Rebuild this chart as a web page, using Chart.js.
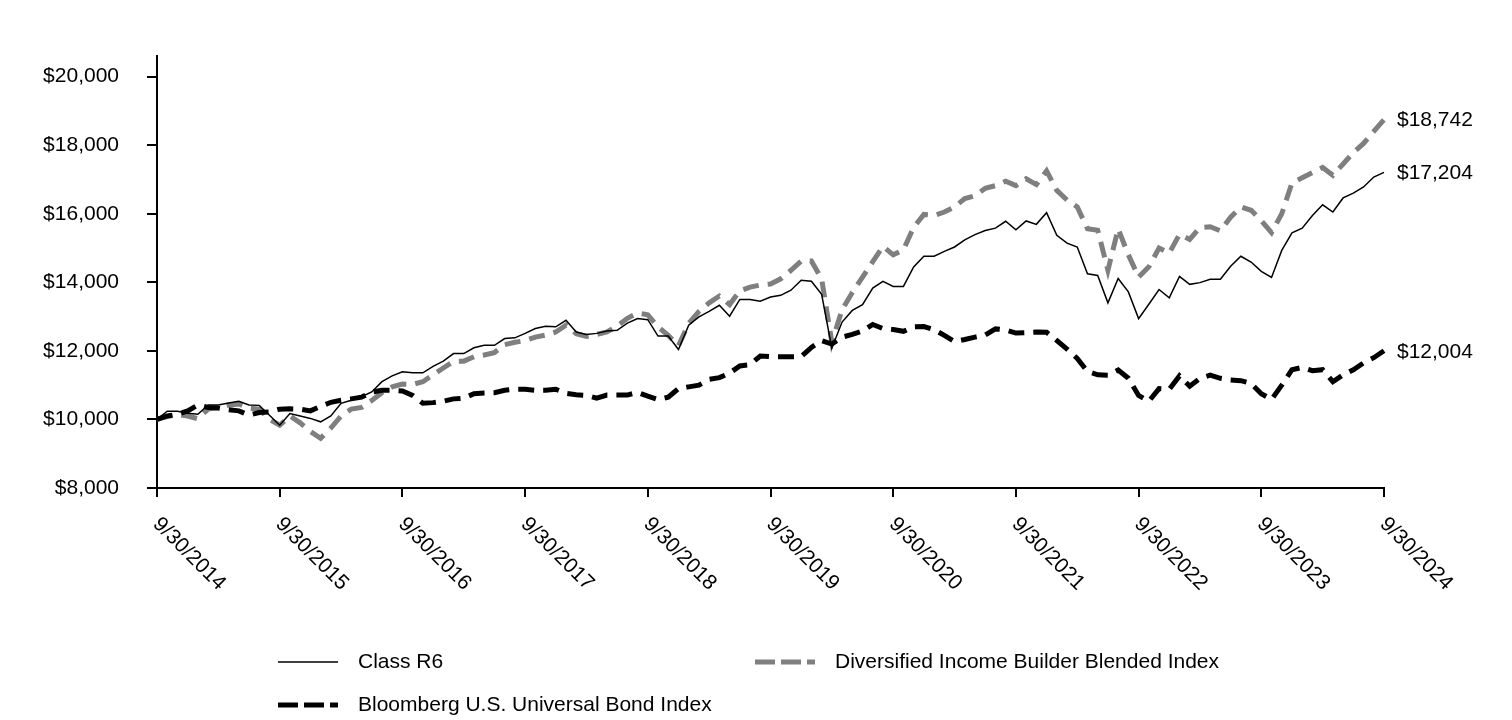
<!DOCTYPE html>
<html><head><meta charset="utf-8">
<script src="https://cdn.jsdelivr.net/npm/chart.js@4.4.1/dist/chart.umd.min.js"></script>
<style>html,body{margin:0;padding:0;background:#fff;}canvas{display:block;}</style>
</head><body>
<canvas id="c" width="1512" height="720"></canvas>
<script>
// ---- Data ----
const classR6 = [10000,10240,10240,10180,10150,10420,10420,10480,10530,10420,10410,10120,
  9830,10170,10100,10030,9930,10100,10470,10560,10660,10800,11100,11270,
  11390,11360,11360,11550,11700,11920,11920,12090,12160,12160,12360,12380,
  12510,12650,12720,12700,12890,12550,12480,12510,12580,12600,12810,12940,
  12910,12430,12430,12040,12750,12990,13150,13330,13010,13500,13500,13450,
  13570,13620,13770,14060,14030,13650,12080,12840,13180,13350,13830,14030,
  13880,13880,14450,14760,14760,14900,15030,15240,15390,15510,15580,15780,
  15530,15790,15690,16030,15370,15140,15030,14250,14200,13400,14110,13720,
  12940,13360,13790,13550,14170,13940,13990,14090,14090,14470,14760,14590,
  14320,14140,14930,15440,15580,15950,16260,16050,16460,16600,16780,17070,
  17204];
const blendedIndex = [10000,10080,10150,10100,10020,10300,10350,10420,10450,10330,10300,10000,
  9830,10100,9900,9650,9450,9750,10100,10300,10350,10550,10780,10950,
  11030,11020,11100,11300,11500,11690,11700,11830,11880,11950,12180,12250,
  12300,12400,12460,12550,12750,12500,12420,12480,12550,12720,12950,13100,
  13050,12700,12450,12150,12800,13150,13400,13600,13350,13750,13860,13920,
  13950,14100,14350,14620,14620,14100,12250,13200,13700,14150,14600,15050,
  14800,14950,15600,15980,15950,16050,16200,16440,16520,16740,16820,16950,
  16820,17020,16850,17250,16680,16400,16200,15560,15520,14350,15560,14800,
  14150,14450,15000,14850,15400,15250,15600,15620,15500,15900,16200,16100,
  15800,15450,16000,16900,17050,17200,17350,17120,17450,17780,18050,18400,
  18742];
const bloombergIndex = [10000,10100,10150,10250,10420,10350,10330,10280,10250,10130,10200,10220,
  10300,10310,10300,10250,10380,10500,10560,10600,10650,10800,10850,10850,
  10830,10700,10470,10490,10530,10600,10620,10750,10770,10780,10850,10880,
  10880,10850,10850,10880,10760,10720,10700,10620,10710,10710,10710,10790,
  10680,10580,10650,10900,10950,11000,11170,11220,11350,11560,11600,11850,
  11830,11830,11830,11830,12100,12300,12200,12400,12480,12580,12770,12650,
  12620,12570,12700,12710,12620,12450,12270,12330,12400,12460,12640,12610,
  12520,12530,12550,12540,12300,12050,11780,11400,11300,11290,11440,11200,
  10700,10530,10900,10880,11270,10970,11200,11290,11200,11150,11130,11050,
  10750,10580,11000,11450,11520,11420,11450,11100,11300,11450,11650,11800,
  12004];
const seriesNames = ['Class R6','Diversified Income Builder Blended Index','Bloomberg U.S. Universal Bond Index'];
const endLabels = ['$17,204','$18,742','$12,004'];
const yearTickLabels = ['9/30/2014','9/30/2015','9/30/2016','9/30/2017','9/30/2018','9/30/2019',
  '9/30/2020','9/30/2021','9/30/2022','9/30/2023','9/30/2024'];
const yTickValues = [8000,10000,12000,14000,16000,18000,20000];

// month-end category labels, 9/30/2014 ... 9/30/2024
const months = [];
for (let i = 0; i < classR6.length; i++) {
  const y = 2014 + Math.floor((8 + i) / 12);
  const m = (8 + i) % 12 + 1;
  const d = new Date(y, m, 0).getDate();
  months.push(m + '/' + d + '/' + y);
}

const FONT = "'Liberation Sans', Arial, Helvetica, sans-serif";
Chart.defaults.font.family = FONT;
Chart.defaults.color = '#000';

const styles = [
  {color:'#000000', width:1.5, dash:[]},
  {color:'#7F7F7F', width:5, dash:[16,9]},
  {color:'#000000', width:5, dash:[16,9]}
];

const decor = {
  id: 'decor',
  afterDraw(chart) {
    const ctx = chart.ctx;
    const xs = chart.scales.x, ys = chart.scales.y;
    ctx.save();
    ctx.fillStyle = '#000';
    ctx.font = '21px ' + FONT;
    // rotated year labels
    yearTickLabels.forEach((lab, k) => {
      const x = xs.getPixelForValue(k * 12);
      ctx.save();
      ctx.translate(x - 5, 525);
      ctx.rotate(Math.PI / 4);
      ctx.textAlign = 'left';
      ctx.textBaseline = 'alphabetic';
      ctx.fillText(lab, 0, 0);
      ctx.restore();
    });
    // end-value labels
    const sets = [classR6, blendedIndex, bloombergIndex];
    ctx.textAlign = 'left';
    ctx.textBaseline = 'middle';
    sets.forEach((s, k) => {
      const y = ys.getPixelForValue(s[s.length - 1]);
      ctx.fillText(endLabels[k], xs.right + 13, y + 1);
    });
    // legend
    const items = [
      {k:0, x:278, y:662},
      {k:1, x:755, y:662},
      {k:2, x:278, y:705}
    ];
    items.forEach(it => {
      const st = styles[it.k];
      ctx.save();
      ctx.strokeStyle = st.color;
      ctx.lineWidth = st.width;
      ctx.setLineDash(it.k === 0 ? [] : [20, 6]);
      ctx.beginPath();
      ctx.moveTo(it.x, it.y);
      ctx.lineTo(it.x + 60, it.y);
      ctx.stroke();
      ctx.restore();
      ctx.fillText(seriesNames[it.k], it.x + 80, it.y);
    });
    ctx.restore();
  }
};

new Chart(document.getElementById('c'), {
  type: 'line',
  data: {
    labels: months,
    datasets: [
      {label: seriesNames[0], data: classR6, borderColor: styles[0].color, borderWidth: styles[0].width, borderDash: styles[0].dash, order: 0},
      {label: seriesNames[1], data: blendedIndex, borderColor: styles[1].color, borderWidth: styles[1].width, borderDash: styles[1].dash, order: 2},
      {label: seriesNames[2], data: bloombergIndex, borderColor: styles[2].color, borderWidth: styles[2].width, borderDash: styles[2].dash, order: 1}
    ]
  },
  options: {
    responsive: false,
    animation: false,
    devicePixelRatio: 1,
    elements: {point: {radius: 0, hoverRadius: 0}, line: {tension: 0, borderCapStyle: 'butt', borderJoinStyle: 'miter'}},
    layout: {padding: {top: 56, right: 128, bottom: 0, left: 0}},
    plugins: {legend: {display: false}, tooltip: {enabled: false}},
    scales: {
      x: {
        type: 'category',
        offset: false,
        ticks: {display: false, autoSkip: false},
        grid: {
          drawOnChartArea: false, drawTicks: true, tickLength: 9, lineWidth: 2,
          color: c => (c.index % 12 === 0 ? '#000' : 'rgba(0,0,0,0)')
        },
        border: {display: true, color: '#000', width: 2},
        afterFit: s => { s.height = 232; }
      },
      y: {
        min: 8000, max: 20600,
        afterBuildTicks: s => { s.ticks = yTickValues.map(v => ({value: v})); },
        ticks: {
          color: '#000', padding: 28,
          font: {size: 21, family: FONT},
          callback: v => '$' + Number(v).toLocaleString('en-US')
        },
        grid: {drawOnChartArea: false, drawTicks: true, tickLength: 10, lineWidth: 2, color: '#000'},
        border: {display: true, color: '#000', width: 2},
        afterFit: s => { s.width = 157; }
      }
    }
  },
  plugins: [decor]
});
</script>
</body></html>
